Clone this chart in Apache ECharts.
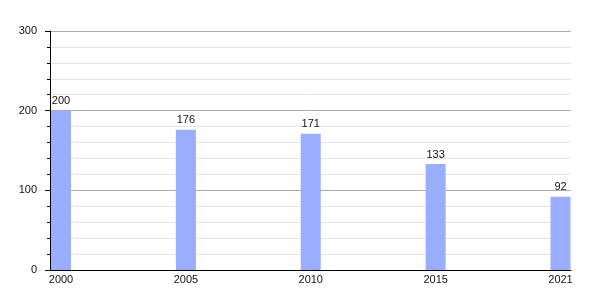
<!DOCTYPE html>
<html>
<head>
<meta charset="utf-8">
<script src="https://cdn.jsdelivr.net/npm/echarts@6/dist/echarts.min.js"></script>
<style>html,body{margin:0;padding:0;background:#fff}#c{width:600px;height:300px}</style>
</head>
<body>
<div id="c"></div>
<script>
const years = ['2000', '2005', '2010', '2015', '2021'];
const values = [200, 176, 171, 133, 92];
const yTicks = [0, 100, 200, 300];

const font = 'Liberation Sans, Arial, sans-serif';
const chart = echarts.init(document.getElementById('c'), null, {renderer: 'canvas'});
chart.setOption({
  animation: false,
  grid: [
    {left: 50, right: 29, top: 31, bottom: 30},
    {left: 61, right: 39.5, top: 31, bottom: 30}
  ],
  xAxis: [
    {
      gridIndex: 0, type: 'category', data: years, boundaryGap: false,
      axisLine: {lineStyle: {color: '#000', width: 1}},
      axisTick: {show: false}, axisLabel: {show: false}, splitLine: {show: false}
    },
    {
      gridIndex: 1, type: 'category', data: years, boundaryGap: false,
      axisLine: {show: false}, axisTick: {show: false},
      axisLabel: {color: '#111', fontSize: 11, fontFamily: font, margin: 4, interval: 0},
      splitLine: {show: false}
    }
  ],
  yAxis: [
    {
      gridIndex: 0, type: 'value', min: yTicks[0], max: yTicks[yTicks.length - 1], interval: 100,
      axisLine: {show: true, lineStyle: {color: '#000', width: 1}},
      axisTick: {show: true, length: 5, lineStyle: {color: '#000'}},
      minorTick: {show: true, splitNumber: 5, length: 3, lineStyle: {color: '#000'}},
      axisLabel: {color: '#111', fontSize: 11, fontFamily: font, margin: 13},
      splitLine: {show: true, lineStyle: {color: '#aaaaaa', width: 1}},
      minorSplitLine: {show: true, lineStyle: {color: '#e4e4e4', width: 1}}
    },
    {
      gridIndex: 1, type: 'value', min: 0, max: 300, interval: 100, show: false,
      splitLine: {show: false}
    }
  ],
  series: [{
    type: 'bar', xAxisIndex: 1, yAxisIndex: 1, data: values, barWidth: 20,
    itemStyle: {color: '#9aadff'},
    label: {show: true, position: 'top', distance: 4, color: '#111', fontSize: 11, fontFamily: font}
  }]
});
</script>
</body>
</html>
